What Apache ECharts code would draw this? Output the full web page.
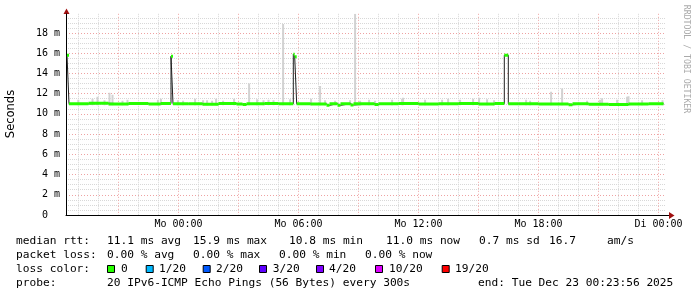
<!DOCTYPE html>
<html><head><meta charset="utf-8">
<script src="https://cdn.jsdelivr.net/npm/echarts@6/dist/echarts.min.js"></script>
<style>html,body{margin:0;padding:0;background:#fff}#c{width:697px;height:297px}</style>
</head><body><div id="c"></div>
<script>
// x values are hours relative to Mo 00:00
const timeRange = [-5.625, 24.375];
const xTickValues = [0, 6, 12, 18, 24];
const xTickLabels = ['Mo 00:00', 'Mo 06:00', 'Mo 12:00', 'Mo 18:00', 'Di 00:00'];
const yTickValues = [0, 2, 4, 6, 8, 10, 12, 14, 16, 18];
const yTickLabels = ['0  ', '2 m', '4 m', '6 m', '8 m', '10 m', '12 m', '14 m', '16 m', '18 m'];
const yMax = 19.9;

// median rtt (ms), each value holds until the next time
const medianTimes = [-5.575, -5.475, -4.5, -3.5, -2.5, -1.5, -0.9, -0.375, -0.275, 0.5, 1.2, 2.0, 2.9, 3.2, 3.4, 4.3, 5.0, 5.74, 5.81, 5.91, 6.6, 7.4, 7.55, 7.95, 8.1, 8.6, 8.75, 9.8, 10.0, 11.0, 12.0, 13.0, 14.0, 15.0, 15.8, 16.29, 16.49, 17.0, 18.0, 19.5, 19.7, 20.5, 21.5, 22.5, 23.5, 24.25];
const medianValues = [15.8, 11.0, 11.05, 10.98, 11.02, 10.98, 11.02, 15.7, 11.0, 11.0, 10.95, 11.02, 10.97, 10.92, 11.0, 11.03, 11.0, 15.9, 15.65, 11.0, 10.98, 10.85, 11.0, 10.85, 11.0, 10.88, 11.0, 10.92, 11.0, 11.03, 10.97, 11.0, 11.03, 10.98, 11.02, 15.8, 11.0, 11.0, 10.97, 10.9, 11.0, 10.95, 10.92, 10.97, 11.0, 11.0];

// smoke (ping spread) in ms
const smokeTimes = [-5.01, -4.3, -4.05, -3.7, -3.45, -3.3, -2.8, -2.55, -1.03, -0.88, -0.03, 0.23, 0.83, 1.23, 1.43, 1.68, 1.88, 2.23, 2.78, 3.53, 3.93, 4.25, 4.5, 4.75, 5.23, 5.58, 6.63, 7.08, 7.33, 7.83, 8.58, 8.83, 9.08, 9.53, 9.83, 10.68, 11.18, 11.23, 12.33, 13.18, 13.48, 14.08, 14.73, 15.03, 15.43, 15.78, 17.38, 17.58, 18.63, 19.18, 20.43, 21.08, 21.18, 21.93, 22.43, 22.5, 23.18, 24.2];
const smokeLow = [10.85, 10.85, 10.85, 10.85, 10.85, 10.85, 10.85, 10.85, 10.85, 10.85, 10.85, 10.85, 10.85, 10.85, 10.85, 10.85, 10.85, 10.85, 10.85, 10.85, 10.85, 10.85, 10.85, 10.85, 10.85, 10.85, 10.85, 10.85, 10.85, 10.85, 10.85, 10.85, 10.85, 10.85, 10.85, 10.85, 10.85, 10.85, 10.85, 10.85, 10.85, 10.85, 10.85, 10.85, 10.85, 10.85, 10.85, 10.85, 10.85, 10.85, 10.85, 10.85, 10.85, 10.85, 10.85, 10.85, 10.85, 10.85];
const smokeHigh = [11.4, 11.5, 11.7, 11.35, 12.1, 11.9, 11.3, 11.4, 11.4, 11.5, 11.35, 11.3, 11.5, 11.35, 11.35, 11.3, 11.5, 11.3, 11.5, 13.0, 11.45, 11.35, 11.4, 11.35, 18.9, 11.45, 11.5, 12.75, 11.35, 11.3, 11.35, 19.9, 11.3, 11.4, 11.3, 11.4, 11.5, 11.6, 11.4, 11.4, 11.5, 11.4, 11.5, 11.6, 11.45, 11.35, 11.4, 11.3, 12.2, 12.5, 11.3, 11.4, 11.55, 11.4, 11.7, 11.75, 11.35, 11.35];

const lossLabels = ['0', '1/20', '2/20', '3/20', '4/20', '10/20', '19/20'];
const lossColors = ['#26ff00', '#00b8ff', '#0059ff', '#5e00ff', '#7e00ff', '#dd00ff', '#ff0000'];

const rttLine = [['median rtt:', 16], ['11.1 ms avg', 107], ['15.9 ms max', 193], ['10.8 ms min', 289], ['11.0 ms now', 386], ['0.7 ms sd', 479], ['16.7', 549], ['am/s', 607]];
const lossLine = [['packet loss:', 16], ['0.00 % avg', 107], ['0.00 % max', 193], ['0.00 % min', 279], ['0.00 % now', 365]];
const probeLine = [['probe:', 16], ['20 IPv6-ICMP Echo Pings (56 Bytes) every 300s', 107], ['end: Tue Dec 23 00:23:56 2025', 478]];
const lossBoxX = [107, 145.7, 202.7, 259, 316, 375, 441.7];
const lossLabelX = [121, 159, 216, 272.7, 329, 389, 455];

const MONO = '"DejaVu Sans Mono", monospace';
const LEGEND_FONT = '11.2px ' + MONO;
const chart = echarts.init(document.getElementById('c'), null, {renderer: 'canvas', width: 697, height: 297});

const minorX = []; for (let h = Math.ceil(timeRange[0]); h <= timeRange[1]; h++) if (h % 3 !== 0) minorX.push(h);
const majorX = []; for (let h = Math.ceil(timeRange[0] / 3) * 3; h <= timeRange[1]; h += 3) majorX.push(h);
const minorY = []; for (let v = 0.5; v < yMax; v += 0.5) if (v % 2 !== 0) minorY.push(v);
const majorY = yTickValues.filter(v => v > 0);

const lineData = medianTimes.map((t, i) => [t, medianValues[i]]);
const bandData = [];
for (let i = 0; i < medianTimes.length - 1; i++) bandData.push([medianTimes[i], medianTimes[i + 1], medianValues[i]]);
const smokeData = smokeTimes.map((t, i) => [t, smokeLow[i], smokeHigh[i]]);

const graphics = [];
function addText(arr, y) {
  arr.forEach(([txt, x]) => graphics.push({type: 'text', x: x, y: y, silent: true,
    style: {text: txt, fill: '#000', font: LEGEND_FONT, verticalAlign: 'middle'}}));
}
addText(rttLine, 241);
addText(lossLine, 255);
addText([['loss color:', 16]], 269);
addText(probeLine, 283);
lossLabels.forEach((lab, i) => {
  graphics.push({type: 'rect', shape: {x: lossBoxX[i] + 0.5, y: 265.5, width: 7, height: 7}, style: {fill: lossColors[i], stroke: '#000', lineWidth: 1}});
  graphics.push({type: 'text', x: lossLabelX[i], y: 269, style: {text: lab, fill: '#000', font: LEGEND_FONT, verticalAlign: 'middle'}});
});
graphics.push({type: 'text', x: 11, y: 114, rotation: Math.PI / 2, style: {text: 'Seconds', fill: '#000', font: '11.5px "DejaVu Sans", sans-serif', align: 'center', verticalAlign: 'middle'}});
graphics.push({type: 'text', x: 686.5, y: 59, rotation: -Math.PI / 2, style: {text: 'RRDTOOL / TOBI OETIKER', fill: '#aaaaaa', font: '8.2px ' + MONO, align: 'center', verticalAlign: 'middle'}});
graphics.push({type: 'polygon', shape: {points: [[63.5, 14], [69.5, 14], [66.5, 8.5]]}, style: {fill: '#a01010'}});
graphics.push({type: 'line', shape: {x1: 666, y1: 215.5, x2: 669, y2: 215.5}, style: {stroke: '#000', lineWidth: 1}});
graphics.push({type: 'polygon', shape: {points: [[669, 212], [669, 219], [674.5, 215.5]]}, style: {fill: '#a01010'}});

const option = {
  animation: false,
  backgroundColor: '#ffffff',
  grid: {left: 66, right: 31, top: 13.8, bottom: 82, containLabel: false},
  xAxis: [
    {type: 'value', min: timeRange[0], max: timeRange[1], position: 'bottom',
     axisLine: {show: true, onZero: false, lineStyle: {color: '#000', width: 1}},
     axisTick: {show: false, customValues: minorX}, axisLabel: {show: false},
     splitLine: {show: true, lineStyle: {color: '#d8d8d8', width: 1, type: [1, 1]}}},
    {type: 'value', min: timeRange[0], max: timeRange[1], position: 'bottom',
     axisLine: {show: false, onZero: false}, axisTick: {show: false, customValues: majorX},
     axisLabel: {show: true, customValues: xTickValues, margin: 4, color: '#000', fontFamily: MONO, fontSize: 10,
       formatter: v => xTickLabels[xTickValues.indexOf(v)]},
     splitLine: {show: true, lineStyle: {color: '#eea2a2', width: 1, type: [1, 2]}}}
  ],
  yAxis: [
    {type: 'value', min: 0, max: yMax, position: 'left',
     axisLine: {show: true, onZero: false, lineStyle: {color: '#000', width: 1}},
     axisTick: {show: false, customValues: minorY}, axisLabel: {show: false},
     splitLine: {show: true, lineStyle: {color: '#d8d8d8', width: 1, type: [1, 1]}}},
    {type: 'value', min: 0, max: yMax, position: 'left',
     axisLine: {show: false, onZero: false}, axisTick: {show: false, customValues: majorY},
     axisLabel: {show: true, customValues: yTickValues, margin: 6, color: '#000', fontFamily: MONO, fontSize: 10,
       formatter: v => yTickLabels[yTickValues.indexOf(v)]},
     splitLine: {show: true, lineStyle: {color: '#eea2a2', width: 1, type: [1, 2]}}}
  ],
  series: [
    {type: 'custom', name: 'smoke', xAxisIndex: 0, yAxisIndex: 0, clip: true, z: 2,
     data: smokeData, encode: {x: 0, y: [1, 2]},
     renderItem: (params, api) => {
       const t = api.value(0);
       const a = api.coord([t - 0.05, api.value(2)]);
       const b = api.coord([t + 0.05, api.value(1)]);
       return {type: 'rect', shape: {x: a[0], y: a[1], width: b[0] - a[0], height: b[1] - a[1]}, style: {fill: '#d2d2d2'}};
     }},
    {type: 'line', name: 'median', xAxisIndex: 0, yAxisIndex: 0, step: 'end', showSymbol: false, symbol: 'none', z: 3,
     data: lineData, lineStyle: {color: '#202020', width: 1}},
    {type: 'custom', name: 'loss0', xAxisIndex: 0, yAxisIndex: 0, clip: true, z: 4,
     data: bandData, encode: {x: [0, 1], y: 2},
     renderItem: (params, api) => {
       const a = api.coord([api.value(0), api.value(2)]);
       const b = api.coord([api.value(1), api.value(2)]);
       return {type: 'rect', shape: {x: a[0], y: a[1] - 1.5, width: b[0] - a[0], height: 3}, style: {fill: lossColors[0]}};
     }}
  ],
  graphic: graphics
};
chart.setOption(option);
</script>
</body></html>
